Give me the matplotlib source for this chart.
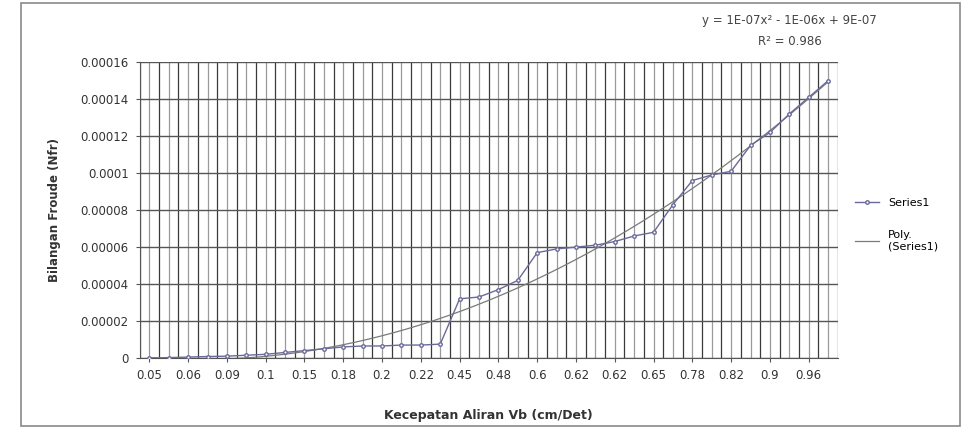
import numpy as np
import matplotlib.pyplot as plt
from matplotlib.patches import Rectangle

# Bilangan Froude terhadap kecepatan aliran (36 titik pengamatan)
froude = [
    0.0, 0.02, 0.05, 0.08, 0.10, 0.15, 0.20, 0.30, 0.40, 0.50,
    0.60, 0.65, 0.65, 0.70, 0.70, 0.75, 3.20, 3.30, 3.70, 4.20,
    5.70, 5.90, 6.00, 6.10, 6.30, 6.60, 6.80, 8.30, 9.60, 9.90,
    10.10, 11.50, 12.20, 13.20, 14.10, 15.00,
]
froude = [v * 1e-5 for v in froude]

# label kecepatan yang tampil (setiap dua kategori)
velocity_labels = [
    "0.05", "0.06", "0.09", "0.1", "0.15", "0.18", "0.2", "0.22", "0.45",
    "0.48", "0.6", "0.62", "0.62", "0.65", "0.78", "0.82", "0.9", "0.96",
]

y_ticks = [0, 0.00002, 0.00004, 0.00006, 0.00008, 0.0001, 0.00012, 0.00014, 0.00016]
y_tick_labels = ["0", "0.00002", "0.00004", "0.00006", "0.00008", "0.0001",
                 "0.00012", "0.00014", "0.00016"]

equation = "y = 1E-07x² - 1E-06x + 9E-07"
r_squared = "R² = 0.986"


def plot_froude():
    fig = plt.figure(figsize=(9.63, 4.29), dpi=100)
    fig.patches.append(Rectangle((0.022, 0.006), 0.975, 0.986, transform=fig.transFigure,
                                 fill=False, edgecolor="#8a8a8a", linewidth=1.2))
    ax = fig.add_axes([0.145, 0.1655, 0.725, 0.6895])

    n = len(froude)
    x = np.arange(1, n + 1)

    # garis grid vertikal rapat
    for gx in np.arange(0.5, n + 1, 0.5):
        ax.axvline(gx, color="#3a3a3a" if gx % 1 == 0.5 else "#9a9a9a",
                   linewidth=0.9, zorder=1)
    for gy in y_ticks:
        ax.axhline(gy, color="#555555", linewidth=1.0, zorder=1)

    ax.plot(x, froude, color="#6a6a9a", linewidth=1.0, marker="o", markersize=2.5,
            markerfacecolor="white", markeredgecolor="#6a6a9a", zorder=3, label="Series1")

    coef = np.polyfit(x, froude, 2)
    xs = np.linspace(1, n, 200)
    ax.plot(xs, np.polyval(coef, xs), color="#7a7a7a", linewidth=0.9,
            zorder=2, label="Poly.\n(Series1)")

    ax.set_xlim(0.5, n + 0.5)
    ax.set_ylim(0, 0.00016)
    ax.set_xticks(x[::2])
    ax.set_xticklabels(velocity_labels, fontsize=8.5, color="#333333")
    ax.set_yticks(y_ticks)
    ax.set_yticklabels(y_tick_labels, fontsize=8.5, color="#333333")
    ax.tick_params(length=3, color="#555555", pad=5)
    for side in ["top", "right"]:
        ax.spines[side].set_visible(False)
    ax.spines["left"].set_color("#555555")
    ax.spines["bottom"].set_color("#555555")

    ax.set_ylabel("Bilangan Froude (Nfr)", fontsize=8.5, fontweight="bold",
                  color="#333333", labelpad=14)
    ax.set_xlabel("Kecepatan Aliran Vb (cm/Det)", fontsize=9, fontweight="bold",
                  color="#333333", labelpad=19)

    fig.text(0.82, 0.945, equation, ha="center", fontsize=8.5, color="#444444")
    fig.text(0.82, 0.895, r_squared, ha="center", fontsize=8.5, color="#444444")

    ax.legend(loc="center left", bbox_to_anchor=(1.01, 0.45), frameon=False,
              fontsize=8, labelspacing=2.0, handlelength=2.2)

    fig.savefig("out.png", dpi=100)


plot_froude()
